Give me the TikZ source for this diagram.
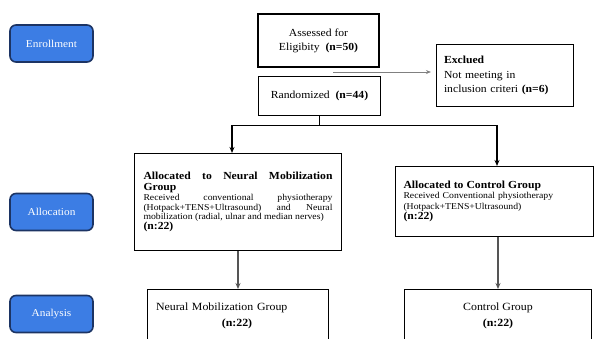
\documentclass[tikz,border=0pt]{standalone}
\usepackage{fontspec}
\setmainfont{Liberation Serif}[FakeStretch=1.08]
\usetikzlibrary{arrows.meta}
\usetikzlibrary{positioning}
\definecolor{mblue}{RGB}{60,125,228}
\definecolor{mnavy}{RGB}{28,52,100}
\definecolor{mgray}{RGB}{85,85,85}

\begin{document}
\begin{tikzpicture}[x=1pt,y=-1pt,
    stage/.style={draw=mnavy,line width=1.6pt,fill=mblue,rounded corners=6pt,
      text=white,font=\fontsize{10.5}{11}\selectfont,minimum width=83,minimum height=37},
    box/.style={draw,line width=1.1pt,inner sep=4pt},
    arr/.style={-{Stealth[length=6pt,width=5pt]},line width=1.1pt},
    garr/.style={arr,draw=mgray,line width=1.6pt}]
      \path[use as bounding box] (0,0) rectangle (597,338);
      \clip (0,0) rectangle (597,338);

      \node[stage] (enroll) at (51.5,43.5) {Enrollment};
      \node[stage] (alloc) at (51.5,212) {Allocation};
      \node[stage] (analysis) at (51.5,314) {Analysis};

      \node[box,line width=2.4pt,minimum width=121,minimum height=53,align=center,
        font=\fontsize{10.8}{14}\selectfont] (assess) at (318.5,40.5)
        {Assessed for\\Eligibity\ \ \textbf{(n=50)}};
      \node[box,minimum width=122,minimum height=39,font=\fontsize{10.8}{12}\selectfont]
        (rand) at (319.5,96) {Randomized\ \ \textbf{(n=44)}};
      \node[box,minimum width=137,minimum height=62,text width=122,align=left,
        font=\fontsize{10.8}{14.5}\selectfont] (excl) at (505,75.5)
        {\textbf{Exclued}\\Not meeting\ in\\inclusion criteri \textbf{(n=6)}};

      \node[box,minimum width=207,minimum height=97,text width=189,align=justify,
        font=\fontsize{9}{9.8}\selectfont] (nm) at (238,202)
        {{\fontsize{10.8}{10.8}\selectfont\bfseries Allocated to Neural Mobilization\linebreak Group\par}
         Received conventional physiotherapy\linebreak (Hotpack+TENS+Ultrasound) and Neural\linebreak
         mobilization (radial, ulnar and median nerves)\par
         {\fontsize{10.8}{12}\selectfont\bfseries (n:22)}};
      \node[box,minimum width=198,minimum height=70,text width=182,align=left,
        font=\fontsize{9}{10.5}\selectfont] (ctl) at (494.5,201.5)
        {{\fontsize{10.8}{11}\selectfont\bfseries Allocated to Control Group}\\
         Received Conventional physiotherapy\\(Hotpack+TENS+Ultrasound)\\
         {\fontsize{10.8}{11}\selectfont\bfseries (n:22)}};

      \node[box,anchor=north,minimum width=181,minimum height=52,text width=164,align=left,
        font=\fontsize{11}{16}\selectfont] (nmg) at (238,289)
        {Neural Mobilization Group\\\makebox[\linewidth]{\hspace{-2pt}\textbf{(n:22)}}};
      \node[box,anchor=north,minimum width=187,minimum height=52,align=center,
        font=\fontsize{11}{16}\selectfont] (ctlg) at (498,289)
        {Control Group\\\textbf{(n:22)}};

      \coordinate (split) at (333,72);
      \draw[-{Stealth[length=5pt,width=4pt]},draw=gray,line width=0.8pt,shorten >=5pt]
        (split) -- (split -| excl.west);
      \coordinate (fork) at ([yshift=-9pt]rand.south);
      \draw[line width=1.1pt] (rand.south) -- (fork);
      \draw[arr] (fork) -| ([xshift=-6pt]nm.north);
      \draw[arr] (fork) -| ([xshift=2.5pt]ctl.north);
      \draw[garr] (nm.south) -- (nmg.north);
      \draw[garr] (ctl.south -| ctlg.north) -- (ctlg.north);
\end{tikzpicture}
\end{document}
